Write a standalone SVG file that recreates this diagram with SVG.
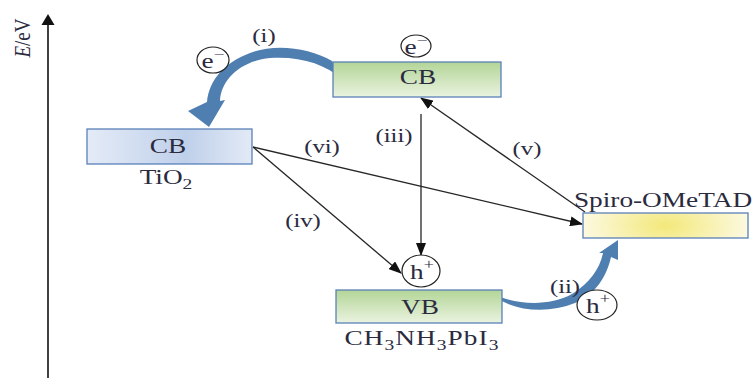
<svg xmlns="http://www.w3.org/2000/svg" width="752" height="378" viewBox="0 0 752 378">
<defs>
<linearGradient id="gBlue" x1="0" y1="0" x2="1" y2="0">
<stop offset="0" stop-color="#e4ebf7"/><stop offset="0.6" stop-color="#bfd0ea"/><stop offset="1" stop-color="#e3eaf6"/>
</linearGradient>
<linearGradient id="gGreen" x1="0" y1="0" x2="0" y2="1">
<stop offset="0" stop-color="#b3d597"/><stop offset="1" stop-color="#eaf3e0"/>
</linearGradient>
<radialGradient id="gYel" cx="0.5" cy="0.5" r="0.5" fx="0.5" fy="0.5" gradientTransform="translate(0.5 0.5) scale(1 3) translate(-0.5 -0.5)">
<stop offset="0" stop-color="#f3e87a"/><stop offset="1" stop-color="#fcf9df"/>
</radialGradient>
<marker id="ah" viewBox="0 0 13 10" refX="12" refY="5" markerWidth="13" markerHeight="10" markerUnits="userSpaceOnUse" orient="auto">
<path d="M0,0 L13,5 L0,10 z" fill="#111"/>
</marker>
</defs>
<style>
text{font-family:"Liberation Serif","Times New Roman",serif;fill:#2b2b40;}
.t{font-size:21px;}
.lbl{font-size:19px;}
.box{stroke:#5a80b8;stroke-width:1.3;}
.ln{stroke:#262626;stroke-width:1.3;fill:none;}
.circ{fill:#fff;stroke:#222;stroke-width:1.2;}
.blue{fill:#4f7fb0;}
</style>
<rect width="752" height="378" fill="#fff"/>

<g id="axis">
<line x1="48" y1="378" x2="48" y2="20" stroke="#111" stroke-width="1.6"/>
<path d="M48,14 L54.5,25 L41.5,25 z" fill="#111"/>
<text transform="translate(30,38) rotate(-90) scale(1,1.25)" text-anchor="middle" font-size="19"><tspan font-style="italic">E</tspan>/eV</text>
</g>

<g id="connectors">
<line class="ln" x1="421" y1="114" x2="421" y2="255" marker-end="url(#ah)"/>
<line class="ln" x1="585" y1="212" x2="421" y2="98" marker-end="url(#ah)"/>
<line class="ln" x1="253" y1="147" x2="582" y2="224" marker-end="url(#ah)"/>
<line class="ln" x1="253" y1="147" x2="401" y2="273" marker-end="url(#ah)"/>
<path class="blue" d="M332,61 C310,48 275,43 250,53 C224,63 209,80 207,102 L188,111 L209,127 L225,100 L220,101 C221,80 240,61 270,58 C300,56 325,64 342,79 Z"/>
<path class="blue" d="M498,296 C520,305 550,306 572,294 C590,283 600,268 603,253 L599,253 L618,240 L618,260 L611,257 C607,276 595,295 575,303 C550,313 520,312 498,299 Z"/>
</g>

<g id="tio2">
<rect class="box" x="87" y="129" width="165" height="35" fill="url(#gBlue)"/>
<text class="t" transform="translate(168,153) scale(1.3,1)" text-anchor="middle">CB</text>
<text class="t" transform="translate(166,184) scale(1.3,1)" text-anchor="middle">TiO<tspan font-size="15" dy="5">2</tspan></text>
</g>

<g id="pcb">
<rect class="box" x="333" y="62" width="168" height="35" fill="url(#gGreen)"/>
<text class="t" transform="translate(418,84) scale(1.3,1)" text-anchor="middle">CB</text>
</g>

<g id="pvb">
<rect class="box" x="336" y="290" width="166" height="33" fill="url(#gGreen)"/>
<text class="t" transform="translate(420,314) scale(1.3,1)" text-anchor="middle">VB</text>
<text class="t" transform="translate(422,345) scale(1.3,1)" text-anchor="middle" letter-spacing="0.8">CH<tspan font-size="15" dy="5">3</tspan><tspan dy="-5">NH</tspan><tspan font-size="15" dy="5">3</tspan><tspan dy="-5">PbI</tspan><tspan font-size="15" dy="5">3</tspan></text>
</g>

<g id="spiro">
<rect class="box" x="583" y="213" width="165" height="25" fill="url(#gYel)"/>
<text class="t" transform="translate(663,207) scale(1.3,1)" text-anchor="middle">Spiro-OMeTAD</text>
</g>

<g id="e1">
<ellipse class="circ" cx="416" cy="46" rx="15" ry="11"/>
<text class="t" transform="translate(416,54) scale(1.3,1)" text-anchor="middle">e<tspan font-size="15" dy="-9">−</tspan></text>
</g>
<g id="e2">
<ellipse class="circ" cx="213" cy="60" rx="16" ry="13"/>
<text class="t" transform="translate(213,68) scale(1.3,1)" text-anchor="middle">e<tspan font-size="15" dy="-9">−</tspan></text>
</g>
<g id="h1">
<ellipse class="circ" cx="421" cy="271" rx="19" ry="16"/>
<text class="t" transform="translate(422,279) scale(1.3,1)" text-anchor="middle">h<tspan font-size="14" dy="-10">+</tspan></text>
</g>
<g id="h2">
<ellipse class="circ" cx="597" cy="305" rx="20" ry="15"/>
<text class="t" transform="translate(598,313) scale(1.3,1)" text-anchor="middle">h<tspan font-size="14" dy="-10">+</tspan></text>
</g>

<g id="labels">
<text class="lbl" transform="translate(264,42) scale(1.3,1)" text-anchor="middle">(i)</text>
<text class="lbl" transform="translate(394,142) scale(1.3,1)" text-anchor="middle">(iii)</text>
<text class="lbl" transform="translate(322,153) scale(1.3,1)" text-anchor="middle">(vi)</text>
<text class="lbl" transform="translate(527,155) scale(1.3,1)" text-anchor="middle">(v)</text>
<text class="lbl" transform="translate(303,227) scale(1.3,1)" text-anchor="middle">(iv)</text>
<text class="lbl" transform="translate(565,293) scale(1.3,1)" text-anchor="middle">(ii)</text>
</g>
</svg>
